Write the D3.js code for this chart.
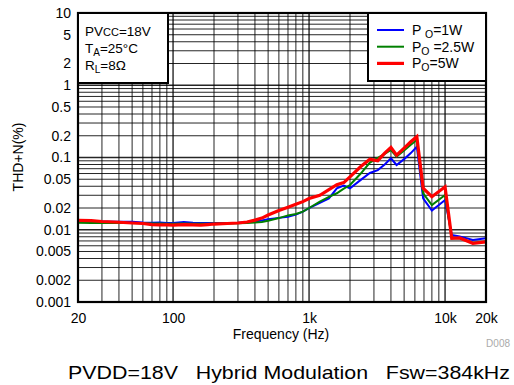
<!DOCTYPE html>
<html><head><meta charset="utf-8">
<script src="https://cdn.jsdelivr.net/npm/d3@7"></script>
<style>body{margin:0;background:#fff}svg{display:block;font-family:"Liberation Sans",Arial,sans-serif}</style>
</head><body><svg id="c" width="514" height="385"></svg>
<script>
const freq = [20,25,30,40,50,60,70,80,90,100,120,140,160,180,200,250,300,350,400,450,500,600,700,800,900,1000,1200,1400,1600,1800,2000,2400,2800,3200,3600,4000,4400,5000,5600,6200,6900,8000,10000,11200,12800,16000,20000];
const thd1W = [0.0132,0.0131,0.0130,0.0129,0.0129,0.0126,0.0125,0.0126,0.0124,0.0124,0.0128,0.0125,0.0124,0.0124,0.0124,0.0124,0.0125,0.0127,0.0130,0.0134,0.0140,0.0146,0.0151,0.0162,0.0178,0.0199,0.0235,0.0272,0.0375,0.0410,0.0375,0.049,0.061,0.067,0.080,0.0975,0.0787,0.095,0.115,0.141,0.0272,0.0184,0.0258,0.00846,0.0081,0.0072,0.0076];
const thd2W5 = [0.0125,0.0124,0.0124,0.0125,0.0124,0.0123,0.0122,0.0122,0.0121,0.0121,0.0122,0.0121,0.0121,0.0121,0.0122,0.0122,0.0123,0.0124,0.0126,0.0128,0.0133,0.0145,0.0158,0.0165,0.0178,0.0200,0.0245,0.0285,0.0320,0.0370,0.0416,0.060,0.085,0.099,0.112,0.127,0.1026,0.125,0.150,0.175,0.0319,0.022,0.0303,0.0076,0.0076,0.0066,0.0068];
const thd5W = [0.0135,0.0134,0.0130,0.0127,0.0124,0.0122,0.0118,0.0117,0.0117,0.0116,0.0118,0.0117,0.0116,0.0118,0.0120,0.0122,0.0124,0.0128,0.0136,0.0145,0.0160,0.0185,0.0205,0.0225,0.0245,0.0270,0.0300,0.0360,0.0420,0.0450,0.0540,0.075,0.0944,0.0903,0.115,0.138,0.108,0.135,0.165,0.194,0.0375,0.0287,0.0393,0.0076,0.0077,0.0065,0.0068];
const seriesNames = ["1W","2.5W","5W"];
const xTicks = [20,100,1000,10000,20000];
const xTickLabels = ["20","100","1k","10k","20k"];
const yTicks = [0.001,0.002,0.005,0.01,0.02,0.05,0.1,0.2,0.5,1,2,5,10];
const yTickLabels = ["0.001","0.002","0.005","0.01","0.02","0.05","0.1","0.2","0.5","1","2","5","10"];

const svg = d3.select("#c");
const L=78,R=486,T=13,B=302;
const x = d3.scaleLog().domain([20,20000]).range([L,R]);
const y = d3.scaleLog().domain([0.001,10]).range([B,T]);

// grid
const g = svg.append("g");
const xGrid=[], yGrid=[];
for (let d=10; d<=10000; d*=10) for (let m=1;m<10;m++){ const v=d*m; if(v>20&&v<20000) xGrid.push(v); }
for (let d=0.001; d<10; d*=10) for (let m=1;m<10;m++){ const v=d*m; if(v>0.0011&&v<9.9) yGrid.push(+v.toPrecision(3)); }
g.selectAll(".vx").data(xGrid).enter().append("line")
 .attr("x1",d=>x(d)).attr("x2",d=>x(d)).attr("y1",T).attr("y2",B)
 .attr("stroke","#000").attr("stroke-width",d=>Math.abs(Math.log10(d)%1)<1e-6?1.4:1).attr("stroke-opacity",0.85);
g.selectAll(".hy").data(yGrid).enter().append("line")
 .attr("y1",d=>y(d)).attr("y2",d=>y(d)).attr("x1",L).attr("x2",R)
 .attr("stroke","#000").attr("stroke-width",d=>Math.abs(Math.round(Math.log10(d))-Math.log10(d))<1e-6?1.4:1).attr("stroke-opacity",0.85);

// series
const series=[{v:thd1W,c:"#0000ff",w:2},{v:thd2W5,c:"#008000",w:2},{v:thd5W,c:"#ff0000",w:3.2}];
const line=d3.line().x(d=>x(d[0])).y(d=>y(d[1]));
series.forEach(s=>{
  svg.append("path").attr("d",line(freq.map((f,i)=>[f,s.v[i]]))).attr("fill","none")
   .attr("stroke",s.c).attr("stroke-width",s.w).attr("stroke-linejoin","miter");
});

// frame
svg.append("rect").attr("x",L).attr("y",T).attr("width",R-L).attr("height",B-T).attr("fill","none").attr("stroke","#000").attr("stroke-width",2.2);

// axes labels
const xa = d3.axisBottom(x).tickValues(xTicks).tickFormat((d,i)=>xTickLabels[i]).tickSize(0).tickPadding(11);
svg.append("g").attr("transform",`translate(0,${B})`).call(xa).call(a=>{a.select(".domain").remove();a.selectAll("text").attr("font-size",14).attr("fill","#000").attr("font-family","Liberation Sans, Arial, sans-serif");});
const ya = d3.axisLeft(y).tickValues(yTicks).tickFormat((d,i)=>yTickLabels[i]).tickSize(0).tickPadding(7);
svg.append("g").attr("transform",`translate(${L},0)`).call(ya).call(a=>{a.select(".domain").remove();a.selectAll("text").attr("font-size",14).attr("fill","#000").attr("font-family","Liberation Sans, Arial, sans-serif");});

svg.append("text").attr("transform","translate(23,157) rotate(-90)").attr("text-anchor","middle").attr("font-size",14).text("THD+N(%)");
svg.append("text").attr("x",281).attr("y",339).attr("text-anchor","middle").attr("font-size",14).text("Frequency (Hz)");
svg.append("text").attr("x",510).attr("y",347).attr("text-anchor","end").attr("font-size",10).attr("fill","#aaa").text("D008");
svg.append("text").attr("x",68).attr("y",379).attr("font-size",19).attr("textLength",442).attr("lengthAdjust","spacingAndGlyphs").attr("xml:space","preserve").text("PVDD=18V   Hybrid Modulation   Fsw=384kHz");

// condition box
svg.append("rect").attr("x",L).attr("y",T).attr("width",90).attr("height",70).attr("fill","#fff").attr("stroke","#000").attr("stroke-width",2);
const cb = svg.append("g").attr("font-size",13.5);
let t=cb.append("text").attr("x",85).attr("y",36); t.append("tspan").text("PV"); t.append("tspan").attr("font-size",11).text("CC"); t.append("tspan").text("=18V");
t=cb.append("text").attr("x",85).attr("y",53); t.append("tspan").text("T"); t.append("tspan").attr("font-size",10).attr("dy",3).text("A"); t.append("tspan").attr("dy",-3).text("=25°C");
t=cb.append("text").attr("x",85).attr("y",70); t.append("tspan").text("R"); t.append("tspan").attr("font-size",10).attr("dy",3).text("L"); t.append("tspan").attr("dy",-3).text("=8Ω");

// legend
svg.append("rect").attr("x",368).attr("y",T).attr("width",R-368).attr("height",68).attr("fill","#fff").attr("stroke","#000").attr("stroke-width",2);
const leg=[{pre:"P ",sub:"O",post:"=1W"},{pre:"P",sub:"O",post:" =2.5W"},{pre:"P",sub:"O",post:"=5W"}];
leg.forEach((l,i)=>{
  const yy=30+i*16.7;
  svg.append("line").attr("x1",377).attr("x2",404).attr("y1",yy).attr("y2",yy).attr("stroke",series[i].c).attr("stroke-width",series[i].w);
  const tt=svg.append("text").attr("x",412).attr("y",yy+5).attr("font-size",14).attr("xml:space","preserve");
  tt.append("tspan").text(l.pre); tt.append("tspan").attr("font-size",10.5).attr("dy",3).text(l.sub); tt.append("tspan").attr("dy",-3).text(l.post);
});
</script></body></html>
